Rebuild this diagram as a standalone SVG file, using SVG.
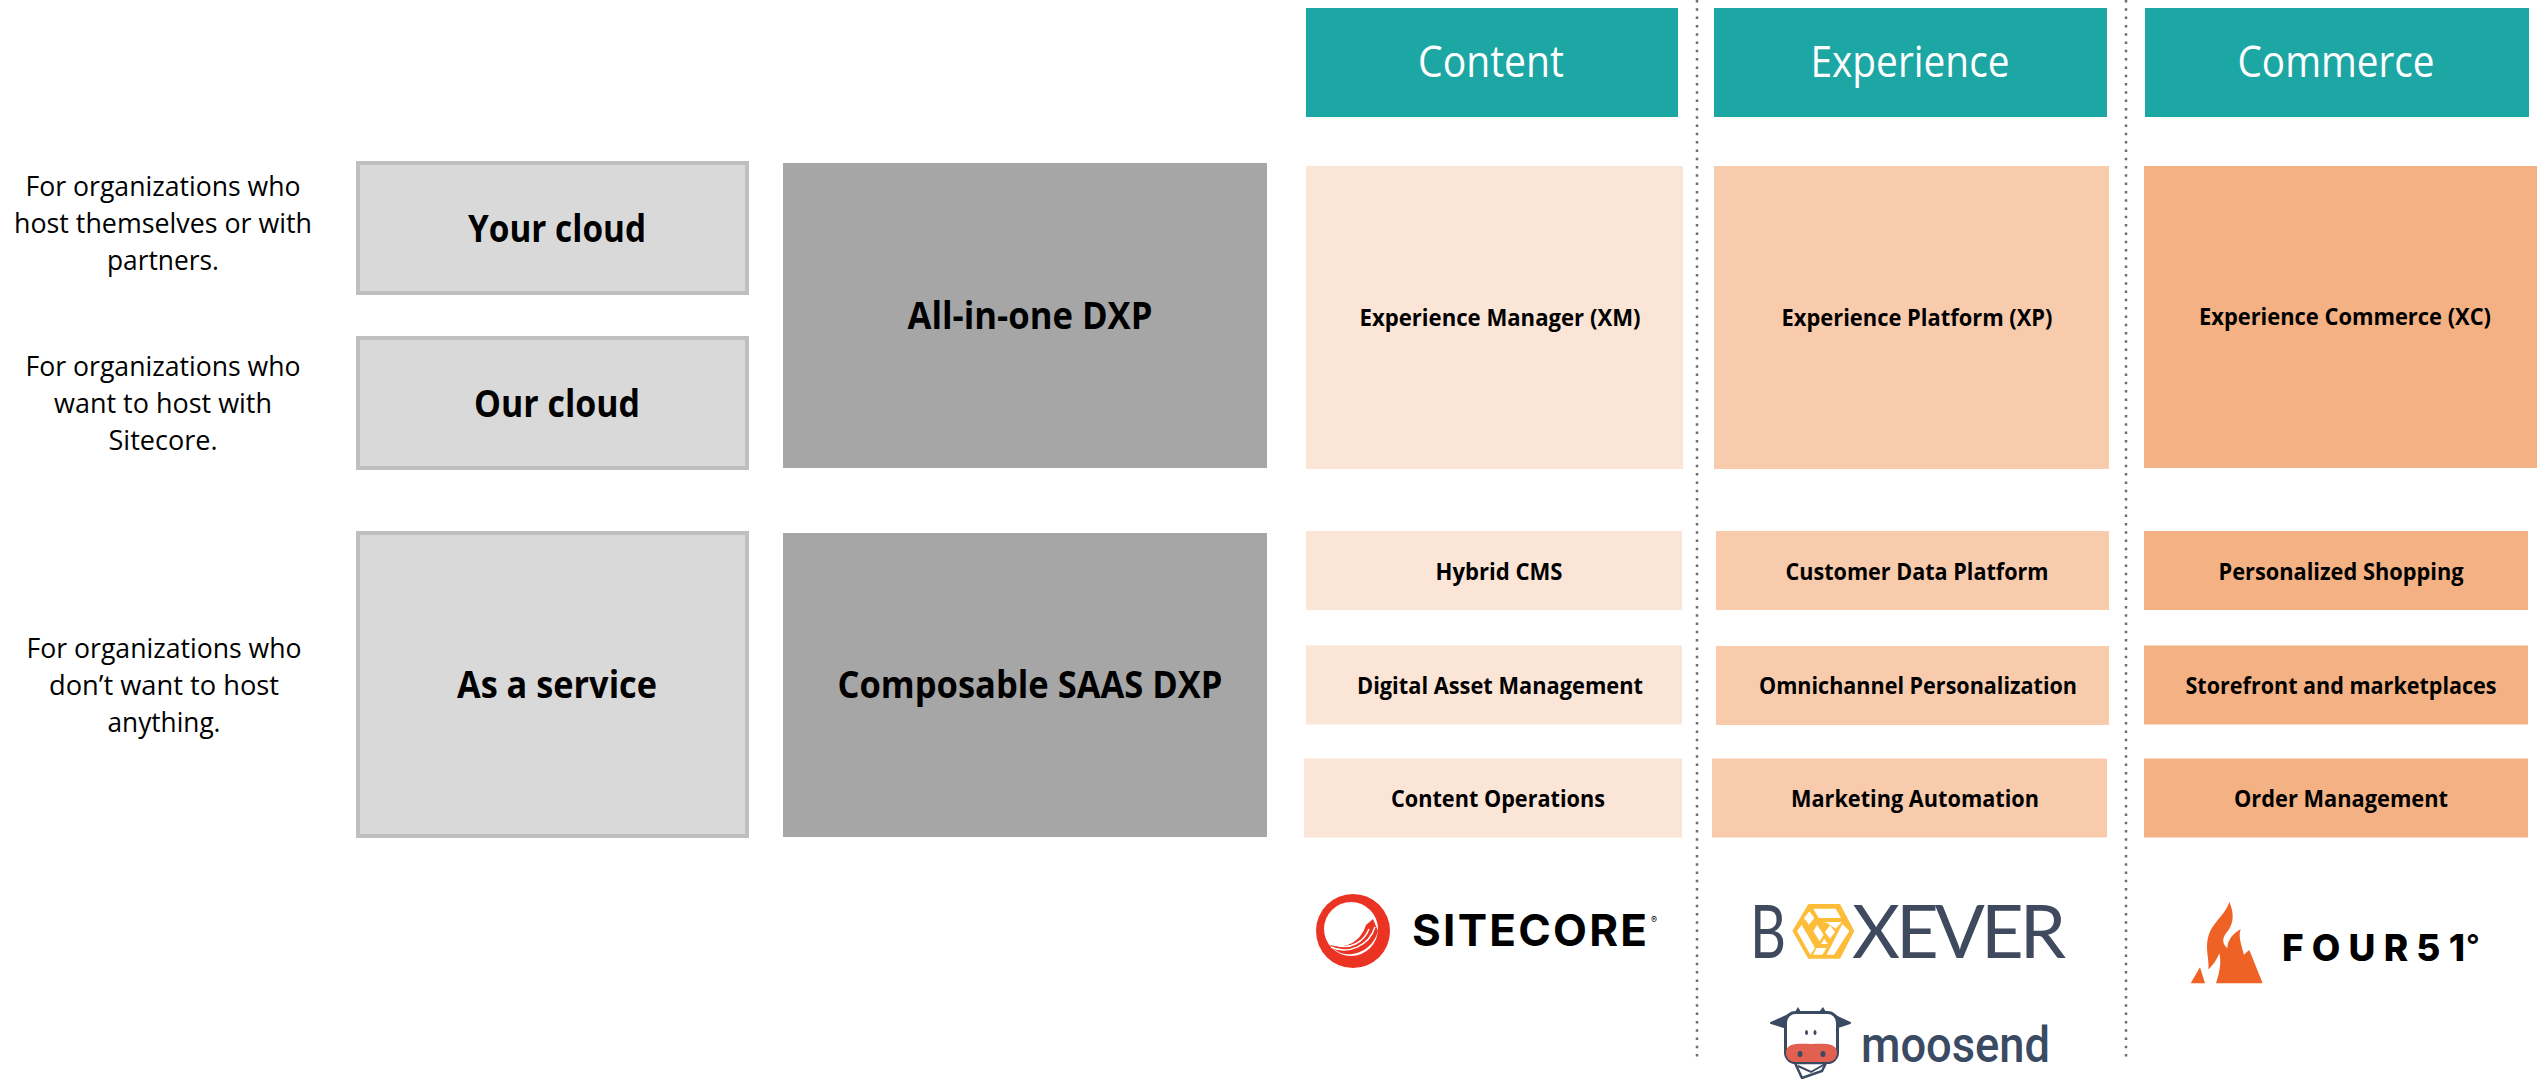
<svg xmlns="http://www.w3.org/2000/svg" width="2545" height="1079" viewBox="0 0 2545 1079">
<style>
text{font-family:"Open Sans","Liberation Sans",sans-serif;text-anchor:middle;fill:#000}
.note{font-size:27px}
.big{font-size:38px;font-weight:700}
.sm{font-size:24px;font-weight:700}
.hd{font-size:44px;fill:#fff}
.hdb{fill:#1ca6a4}
.light{fill:#d9d9d9;stroke:#bfbfbf;stroke-width:4}
.dark{fill:#a6a6a6}
.c1{fill:#fbe5d6}.c2{fill:#f8cbad}.c3{fill:#f4b183}
.div{stroke:#666e80;stroke-width:2.500;stroke-dasharray:2.500 5.800;fill:none}
.lg{font-family:Inter,"Liberation Sans",sans-serif;text-anchor:start}
</style>
<g id="connectors"><path class="div" d="M1697 0V1057"/><path class="div" d="M2126 0V1057"/></g>
<g id="note-1"><text class="note" x="163" y="196" textLength="275" lengthAdjust="spacingAndGlyphs">For organizations who</text><text class="note" x="163" y="233" textLength="298" lengthAdjust="spacingAndGlyphs">host themselves or with</text><text class="note" x="163" y="270" textLength="112" lengthAdjust="spacingAndGlyphs">partners.</text></g>
<g id="note-2"><text class="note" x="163" y="376" textLength="275" lengthAdjust="spacingAndGlyphs">For organizations who</text><text class="note" x="163" y="413" textLength="218" lengthAdjust="spacingAndGlyphs">want to host with</text><text class="note" x="163" y="450" textLength="109" lengthAdjust="spacingAndGlyphs">Sitecore.</text></g>
<g id="note-3"><text class="note" x="164" y="658" textLength="275" lengthAdjust="spacingAndGlyphs">For organizations who</text><text class="note" x="164" y="695" textLength="230" lengthAdjust="spacingAndGlyphs">don’t want to host</text><text class="note" x="164" y="732" textLength="113" lengthAdjust="spacingAndGlyphs">anything.</text></g>
<g id="your-cloud"><rect class="light" x="358" y="163" width="389" height="130"/><text class="big" x="557" y="242" textLength="178" lengthAdjust="spacingAndGlyphs">Your cloud</text></g>
<g id="our-cloud"><rect class="light" x="358" y="338" width="389" height="130"/><text class="big" x="557" y="417" textLength="166" lengthAdjust="spacingAndGlyphs">Our cloud</text></g>
<g id="as-a-service"><rect class="light" x="358" y="533" width="389" height="303"/><text class="big" x="557" y="698" textLength="200" lengthAdjust="spacingAndGlyphs">As a service</text></g>
<g id="all-in-one"><rect class="dark" x="783" y="163" width="484" height="305"/><text class="big" x="1030" y="329" textLength="245" lengthAdjust="spacingAndGlyphs">All-in-one DXP</text></g>
<g id="composable"><rect class="dark" x="783" y="533" width="484" height="304"/><text class="big" x="1030" y="698" textLength="385" lengthAdjust="spacingAndGlyphs">Composable SAAS DXP</text></g>
<g id="hd-content"><rect class="hdb" x="1306" y="8" width="372" height="109"/><text class="hd" x="1491" y="77" textLength="146" lengthAdjust="spacingAndGlyphs">Content</text></g>
<g id="hd-experience"><rect class="hdb" x="1714" y="8" width="393" height="109"/><text class="hd" x="1910" y="77" textLength="199" lengthAdjust="spacingAndGlyphs">Experience</text></g>
<g id="hd-commerce"><rect class="hdb" x="2145" y="8" width="384" height="109"/><text class="hd" x="2336" y="77" textLength="197" lengthAdjust="spacingAndGlyphs">Commerce</text></g>
<g id="xm"><rect class="c1" x="1306" y="166" width="377" height="303"/><text class="sm" x="1500" y="326" textLength="281" lengthAdjust="spacingAndGlyphs">Experience Manager (XM)</text></g>
<g id="xp"><rect class="c2" x="1714" y="166" width="395" height="303"/><text class="sm" x="1917" y="326" textLength="271" lengthAdjust="spacingAndGlyphs">Experience Platform (XP)</text></g>
<g id="xc"><rect class="c3" x="2144" y="166" width="393" height="302"/><text class="sm" x="2345" y="325" textLength="292" lengthAdjust="spacingAndGlyphs">Experience Commerce (XC)</text></g>
<g id="hybrid-cms"><rect class="c1" x="1306" y="531" width="376" height="79"/><text class="sm" x="1499" y="580" textLength="127" lengthAdjust="spacingAndGlyphs">Hybrid CMS</text></g>
<g id="dam"><rect class="c1" x="1306" y="645.500" width="376" height="79"/><text class="sm" x="1500" y="694" textLength="286" lengthAdjust="spacingAndGlyphs">Digital Asset Management</text></g>
<g id="content-ops"><rect class="c1" x="1304" y="758.500" width="378" height="79"/><text class="sm" x="1498" y="807" textLength="214" lengthAdjust="spacingAndGlyphs">Content Operations</text></g>
<g id="cdp"><rect class="c2" x="1716" y="531" width="393" height="79"/><text class="sm" x="1917" y="580" textLength="263" lengthAdjust="spacingAndGlyphs">Customer Data Platform</text></g>
<g id="omni"><rect class="c2" x="1716" y="646" width="393" height="79"/><text class="sm" x="1918" y="694" textLength="318" lengthAdjust="spacingAndGlyphs">Omnichannel Personalization</text></g>
<g id="marketing"><rect class="c2" x="1712" y="758.500" width="395" height="79"/><text class="sm" x="1915" y="807" textLength="248" lengthAdjust="spacingAndGlyphs">Marketing Automation</text></g>
<g id="shopping"><rect class="c3" x="2144" y="531" width="384" height="79"/><text class="sm" x="2341" y="580" textLength="245" lengthAdjust="spacingAndGlyphs">Personalized Shopping</text></g>
<g id="storefront"><rect class="c3" x="2144" y="645.500" width="384" height="79"/><text class="sm" x="2341" y="694" textLength="311" lengthAdjust="spacingAndGlyphs">Storefront and marketplaces</text></g>
<g id="order"><rect class="c3" x="2144" y="758.500" width="384" height="79"/><text class="sm" x="2341" y="807" textLength="214" lengthAdjust="spacingAndGlyphs">Order Management</text></g>
<g id="logo-sitecore">
<circle cx="1353" cy="931" r="37" fill="#eb3323"/>
<circle cx="1351" cy="929" r="27" fill="#fff"/>
<path d="M1330 945C1347 950 1361 941 1366 925L1373 919L1378 931C1374 946 1360 956 1345 954C1339 953 1334 950 1330 945Z" fill="#eb3323"/>
<path d="M1331 947C1348 955 1369 946 1375 927M1336 945C1350 950 1364 942 1369 929" fill="none" stroke="#fff" stroke-width="1.500"/>
<text class="lg" x="1412" y="946" font-size="44" font-weight="700" textLength="235" lengthAdjust="spacing" fill="#0a0a0a">SITECORE</text>
<text class="lg" x="1651" y="923" font-size="9" fill="#888">®</text>
</g>
<g id="logo-boxever">
<text class="lg" x="1750" y="958" font-size="74" textLength="36" lengthAdjust="spacingAndGlyphs" style="font-family:Lato,sans-serif;fill:#3f4a5f">B</text>
<g transform="translate(1785 898) scale(.3333)">
<path d="M22 99L70 18H165L208 99L165 182H70Z" fill="#fdbd39"/>
<path d="M85 32H152L168 60H101ZM73 40L88 60L72 80L57 60ZM36 99L50 80L90 150L76 170ZM95 150H125L112 170H84ZM135 82L150 102L135 122L120 102ZM112 72H170L152 92L125 74ZM172 78L193 99L147 170H125ZM85 100L96 80L116 110L104 130ZM108 138H128L118 122Z" fill="#fff"/>
</g>
<text class="lg" x="1852" y="958" font-size="74" textLength="214" lengthAdjust="spacing" style="font-family:Lato,sans-serif;fill:#3f4a5f">XEVER</text>
</g>
<g id="logo-moosend">
<path d="M1793 1013L1771 1023L1784 1027ZM1829 1013L1850 1023L1838 1027Z" fill="#3b4a63" stroke="#3b4a63" stroke-width="2" stroke-linejoin="round"/>
<path d="M1795 1012L1798 1007L1801 1012ZM1819 1012L1823 1007L1826 1012Z" fill="#3b4a63"/>
<path d="M1795 1063L1802 1078L1822 1071L1826 1063Z" fill="#fff" stroke="#3b4a63" stroke-width="2.500"/>
<path d="M1798 1066L1811 1072L1825 1064" fill="none" stroke="#3b4a63" stroke-width="2"/>
<rect x="1785.500" y="1012.500" width="52" height="50" rx="10" fill="#fff" stroke="#3b4a63" stroke-width="3"/>
<path d="M1786 1053C1786 1042 1800 1044 1811 1044C1823 1044 1837 1042 1837 1053C1837 1058 1833 1062 1828 1062H1795C1790 1062 1786 1058 1786 1053Z" fill="#e2604f"/>
<ellipse cx="1806.500" cy="1032.500" rx="1.500" ry="2.500" fill="#3b4a63"/><ellipse cx="1815" cy="1032.500" rx="1.500" ry="2.500" fill="#3b4a63"/>
<ellipse cx="1800" cy="1054" rx="2.500" ry="3" fill="#3b4a63"/><ellipse cx="1823" cy="1054" rx="2.500" ry="3" fill="#3b4a63"/>
<text class="lg" x="1861" y="1062" font-size="50" font-weight="500" textLength="189" lengthAdjust="spacingAndGlyphs" style="font-family:Roboto,sans-serif;fill:#3b4a63">moosend</text>
</g>
<g id="logo-four51">
<g transform="translate(2170 890) scale(.3333)" fill="#ee6325">
<path d="M178 35C195 75 190 105 168 130C155 148 158 162 172 175C172 150 190 130 212 118C205 140 212 158 222 195C225 190 232 185 238 180L278 280H138C148 250 155 220 148 190C140 210 128 228 115 238C118 210 108 185 112 155C118 100 165 80 178 35Z"/>
<path d="M62 280L90 232L105 280Z"/>
</g>
<text class="lg" x="2282" y="961" font-size="37" font-weight="800" textLength="183" lengthAdjust="spacing" fill="#1e242b">FOUR51</text>
<text class="lg" x="2466" y="956" font-size="30" font-weight="600" fill="#ee6325">°</text>
</g>
</svg>
